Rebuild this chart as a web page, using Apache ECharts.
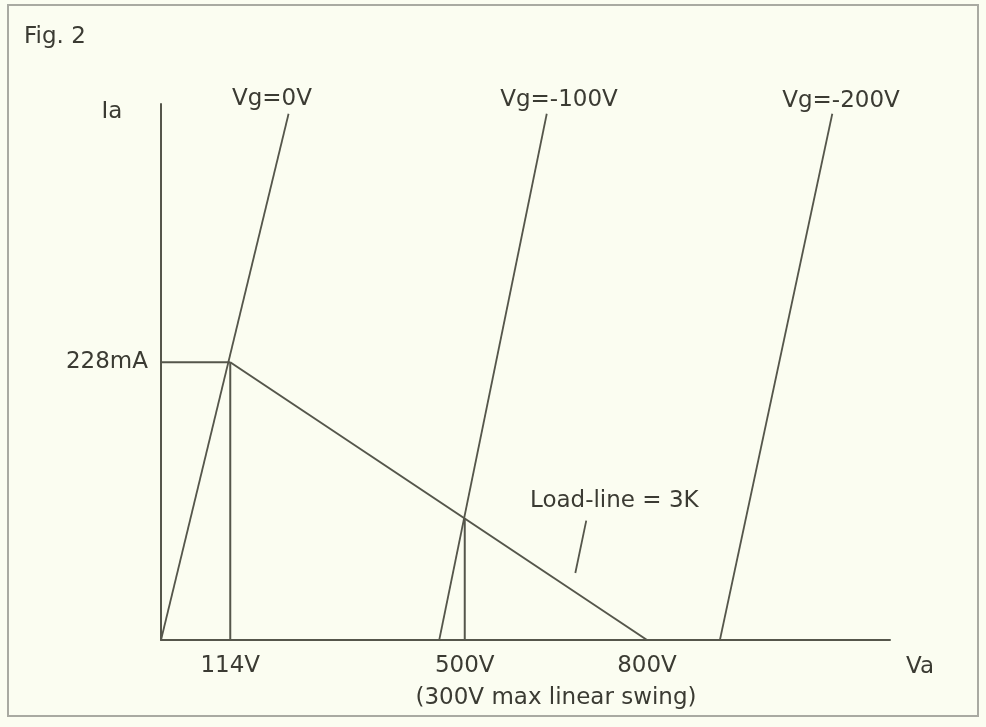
<!DOCTYPE html>
<html>
<head>
<meta charset="utf-8">
<script src="https://cdn.jsdelivr.net/npm/echarts@6/dist/echarts.min.js"></script>
<style>
html,body{margin:0;padding:0;background:#fbfdf1;}
#chart{width:986px;height:727px;}
</style>
</head>
<body>
<div id="chart"></div>
<script>
// ---- data (volts, milliamps) ----
const vaTicks = [114, 500, 800];
const iaTicks = [228];
const vg0 = [[0, 0], [210, 432]];
const vg100 = [[458, 0], [635, 432]];
const vg200 = [[920, 0], [1105, 432]];
const loadLine = [[114, 228], [800, 0]];
const ia228Ref = [[0, 228], [114, 228]];
const va114Ref = [[114, 0], [114, 228]];
const va500Ref = [[500, 0], [500, 100]];
const loadPointer = [[700, 98], [682, 55]];
const vgLabels = ['Vg=0V', 'Vg=-100V', 'Vg=-200V'];

const LINE = '#55564b';
const TEXT = '#3b3b33';
const FONT = 'DejaVu Sans';
const FS = 23;

function seg(data, w) {
  return {
    type: 'line', data: data, showSymbol: false, symbol: 'none', silent: true,
    animation: false,
    lineStyle: { color: LINE, width: w }
  };
}
function txt(str, x, y, align) {
  return {
    type: 'text', x: x, y: y, silent: true,
    style: { text: str, fill: TEXT, font: FS + 'px "' + FONT + '"', align: align || 'center', verticalAlign: 'middle' }
  };
}

const chart = echarts.init(document.getElementById('chart'), null, { renderer: 'canvas' });
chart.setOption({
  backgroundColor: '#fbfdf1',
  animation: false,
  grid: { left: 161, top: 104, width: 729, height: 536, containLabel: false },
  xAxis: {
    type: 'value', min: 0, max: 1200,
    axisLine: { show: true, lineStyle: { color: LINE, width: 2 } },
    axisTick: { show: false },
    splitLine: { show: false },
    axisLabel: {
      customValues: vaTicks, formatter: v => v + 'V', margin: 15,
      color: TEXT, fontFamily: FONT, fontSize: FS
    }
  },
  yAxis: {
    type: 'value', min: 0, max: 440,
    axisLine: { show: true, lineStyle: { color: LINE, width: 2 } },
    axisTick: { show: false },
    splitLine: { show: false },
    axisLabel: {
      customValues: iaTicks, formatter: v => v + 'mA', margin: 13,
      color: TEXT, fontFamily: FONT, fontSize: FS
    }
  },
  series: [
    seg(vg0, 1.8), seg(vg100, 1.8), seg(vg200, 1.8),
    seg(loadLine, 2), seg(ia228Ref, 2), seg(va114Ref, 2), seg(va500Ref, 2),
    seg(loadPointer, 1.8)
  ],
  graphic: [
    { type: 'rect', silent: true, shape: { x: 8, y: 5, width: 970, height: 711 },
      style: { fill: 'none', stroke: '#a9aaa2', lineWidth: 2 } },
    txt('Fig. 2', 24, 37, 'left'),
    txt('Ia', 112, 112),
    txt(vgLabels[0], 272, 99),
    txt(vgLabels[1], 559, 100),
    txt(vgLabels[2], 841, 101),
    txt('Load-line = 3K', 530, 501, 'left'),
    txt('Va', 920, 667),
    txt('(300V max linear swing)', 556, 698)
  ]
});
</script>
</body>
</html>
